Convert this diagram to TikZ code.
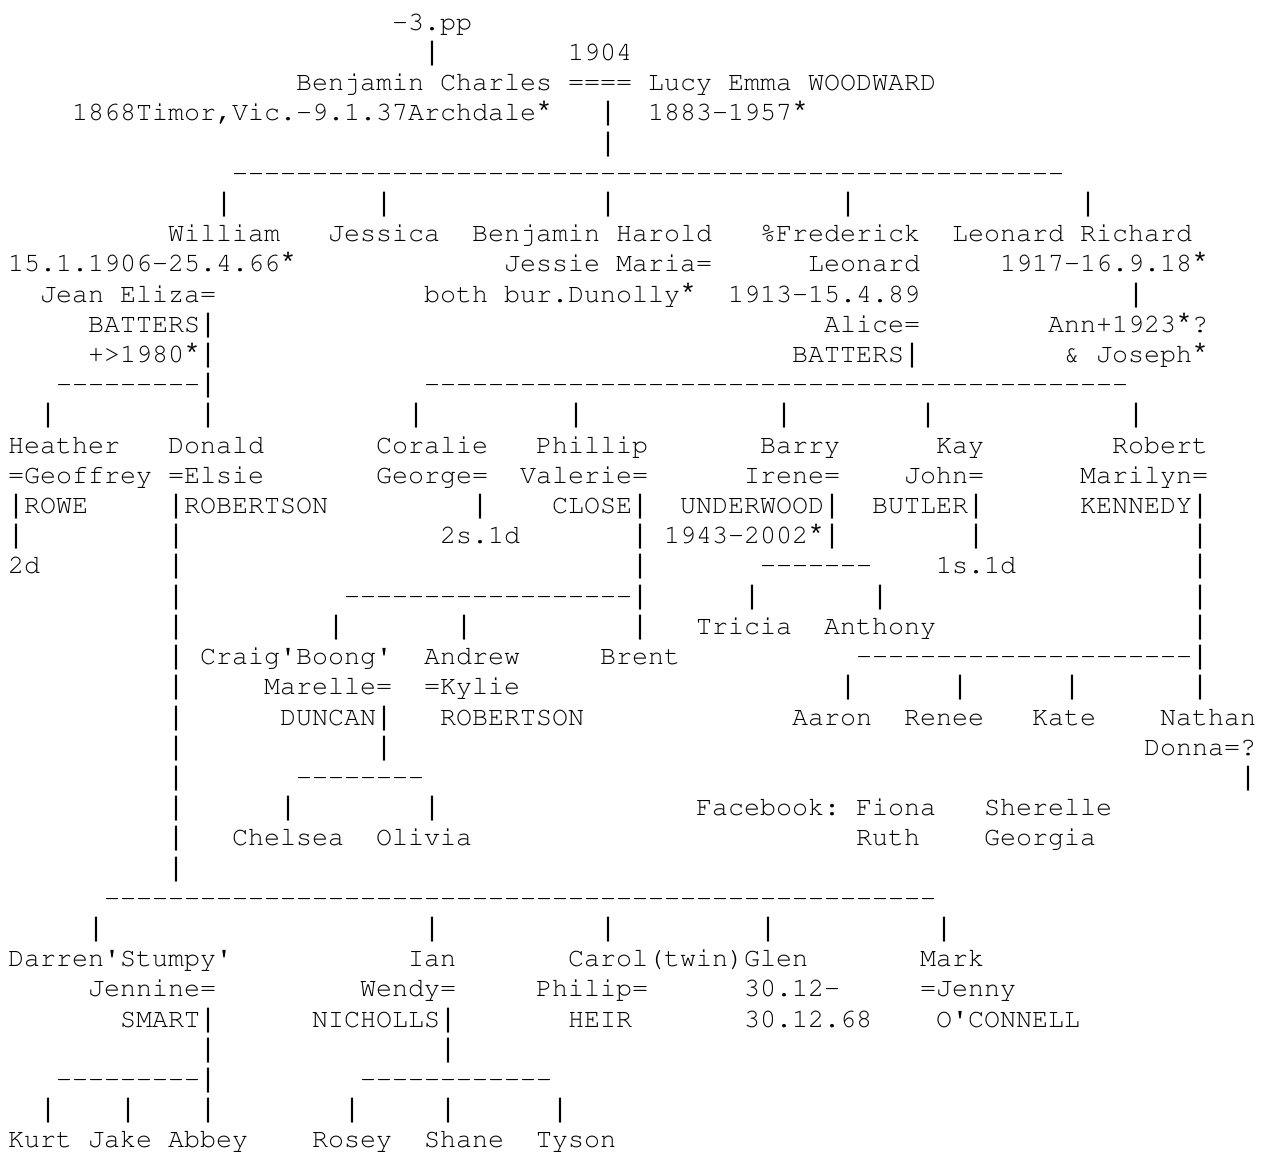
\documentclass[tikz,border=0pt]{standalone}
\usepackage[T1]{fontenc}
\usepackage{fontspec}
\newfontfamily\lmono{Liberation Mono}
\ExplSyntaxOn
\cs_new:Npn \dashrun #1 { \prg_replicate:nn {#1} {-{}} }
\ExplSyntaxOff
\newcommand\q{\textquotesingle}
\newcommand\vb{{\lmono|}}
\newcommand\astk{{\lmono*}}
\frenchspacing
\tikzset{
  tx/.style={anchor=base west, inner sep=0pt, outer sep=0pt, text=black,
    font=\fontencoding{T1}\fontfamily{pcr}\fontseries{m}\fontshape{n}\fontsize{20pt}{24pt}\selectfont}
}
\newcommand\Seg[4]{\node[tx] (#1) at ({8+16*#2},{30.2+30.21*(#3-1)}) {#4};}
\begin{document}
\begin{tikzpicture}[x=0.75pt,y=-0.75pt]
\useasboundingbox[fill=white] (0,0) rectangle (1266,1153);
% row 1-5
\Seg{pp}{24}{1}{-3.pp}
\Seg{vtwo}{26}{2}{\vb}\Seg{married}{35}{2}{1904}
\Seg{bc}{18}{3}{Benjamin Charles}\Seg{eqthree}{35}{3}{====}\Seg{lucy}{40}{3}{Lucy Emma WOODWARD}
\Seg{bcd}{4}{4}{1868Timor,Vic.-9.1.37Archdale\astk}\Seg{vfour}{37}{4}{\vb}\Seg{lucyd}{40}{4}{1883-1957\astk}
\Seg{vfive}{37}{5}{\vb}
% row 6-12
\Seg{hsix}{14}{6}{\dashrun{52}}
\Seg{vsa}{13}{7}{\vb}\Seg{vsb}{23}{7}{\vb}\Seg{vsc}{37}{7}{\vb}\Seg{vsd}{52}{7}{\vb}\Seg{vse}{67}{7}{\vb}
\Seg{william}{10}{8}{William}\Seg{jessica}{20}{8}{Jessica}\Seg{benh}{29}{8}{Benjamin Harold}\Seg{fred}{47}{8}{\%Frederick}\Seg{leon}{59}{8}{Leonard Richard}
\Seg{willd}{0}{9}{15.1.1906-25.4.66\astk}\Seg{jessie}{31}{9}{Jessie Maria=}\Seg{fredb}{50}{9}{Leonard}\Seg{leond}{62}{9}{1917-16.9.18\astk}
\Seg{jean}{2}{10}{Jean Eliza=}\Seg{bur}{26}{10}{both bur.Dunolly\astk}\Seg{fredd}{45}{10}{1913-15.4.89}\Seg{vten}{70}{10}{\vb}
\Seg{jeanb}{5}{11}{BATTERS\vb}\Seg{alice}{51}{11}{Alice=}\Seg{ann}{65}{11}{Ann+1923\astk?}
\Seg{jeand}{5}{12}{+>1980\astk\vb}\Seg{aliceb}{49}{12}{BATTERS\vb}\Seg{joseph}{66}{12}{\& Joseph\astk}
% row 13-19
\Seg{htha}{3}{13}{\dashrun{9}\vb}\Seg{hthb}{26}{13}{\dashrun{44}}
\Seg{vfa}{2}{14}{\vb}\Seg{vfb}{12}{14}{\vb}\Seg{vfc}{25}{14}{\vb}\Seg{vfd}{35}{14}{\vb}\Seg{vfe}{48}{14}{\vb}\Seg{vff}{57}{14}{\vb}\Seg{vfg}{70}{14}{\vb}
\Seg{heather}{0}{15}{Heather}\Seg{donald}{10}{15}{Donald}\Seg{coralie}{23}{15}{Coralie}\Seg{phillip}{33}{15}{Phillip}\Seg{barry}{47}{15}{Barry}\Seg{kay}{58}{15}{Kay}\Seg{robert}{69}{15}{Robert}
\Seg{geoffrey}{0}{16}{=Geoffrey}\Seg{elsie}{10}{16}{=Elsie}\Seg{george}{23}{16}{George=}\Seg{valerie}{32}{16}{Valerie=}\Seg{irene}{46}{16}{Irene=}\Seg{john}{56}{16}{John=}\Seg{marilyn}{67}{16}{Marilyn=}
\Seg{rowe}{0}{17}{\vb ROWE}\Seg{robertson}{10}{17}{\vb ROBERTSON}\Seg{vsva}{29}{17}{\vb}\Seg{close}{34}{17}{CLOSE\vb}\Seg{underwood}{42}{17}{UNDERWOOD\vb}\Seg{butler}{54}{17}{BUTLER\vb}\Seg{kennedy}{67}{17}{KENNEDY\vb}
\Seg{vega}{0}{18}{\vb}\Seg{vegb}{10}{18}{\vb}\Seg{corkids}{27}{18}{2s.1d}\Seg{vegc}{39}{18}{\vb}\Seg{ired}{41}{18}{1943-2002\astk\vb}\Seg{vegd}{60}{18}{\vb}\Seg{vege}{74}{18}{\vb}
\Seg{hkids}{0}{19}{2d}\Seg{vnia}{10}{19}{\vb}\Seg{vnib}{39}{19}{\vb}\Seg{hnine}{47}{19}{\dashrun{7}}\Seg{kaykids}{58}{19}{1s.1d}\Seg{vnic}{74}{19}{\vb}
% row 20-29
\Seg{vtwa}{10}{20}{\vb}\Seg{htw}{21}{20}{\dashrun{18}\vb}\Seg{vtwb}{46}{20}{\vb}\Seg{vtwc}{54}{20}{\vb}\Seg{vtwd}{74}{20}{\vb}
\Seg{vtoa}{10}{21}{\vb}\Seg{vtob}{20}{21}{\vb}\Seg{vtoc}{28}{21}{\vb}\Seg{vtod}{39}{21}{\vb}\Seg{tricia}{43}{21}{Tricia}\Seg{anthony}{51}{21}{Anthony}\Seg{vtoe}{74}{21}{\vb}
\Seg{vtta}{10}{22}{\vb}\Seg{craig}{12}{22}{Craig\q Boong\q}\Seg{andrew}{26}{22}{Andrew}\Seg{brent}{37}{22}{Brent}\Seg{htt}{53}{22}{\dashrun{21}\vb}
\Seg{vtha}{10}{23}{\vb}\Seg{marelle}{16}{23}{Marelle=}\Seg{kylie}{26}{23}{=Kylie}\Seg{vthb}{52}{23}{\vb}\Seg{vthc}{59}{23}{\vb}\Seg{vthd}{66}{23}{\vb}\Seg{vthe}{74}{23}{\vb}
\Seg{vfoa}{10}{24}{\vb}\Seg{duncan}{17}{24}{DUNCAN\vb}\Seg{robertsonb}{27}{24}{ROBERTSON}\Seg{aaron}{49}{24}{Aaron}\Seg{renee}{56}{24}{Renee}\Seg{kate}{64}{24}{Kate}\Seg{nathan}{72}{24}{Nathan}
\Seg{vfva}{10}{25}{\vb}\Seg{vfvb}{23}{25}{\vb}\Seg{donna}{71}{25}{Donna=?}
\Seg{vsxa}{10}{26}{\vb}\Seg{hsx}{18}{26}{\dashrun{8}}\Seg{vsxb}{77}{26}{\vb}
\Seg{vsna}{10}{27}{\vb}\Seg{vsnb}{17}{27}{\vb}\Seg{vsnc}{26}{27}{\vb}\Seg{fb}{43}{27}{Facebook: Fiona}\Seg{sherelle}{61}{27}{Sherelle}
\Seg{vega2}{10}{28}{\vb}\Seg{chelsea}{14}{28}{Chelsea}\Seg{olivia}{23}{28}{Olivia}\Seg{ruth}{53}{28}{Ruth}\Seg{georgia}{61}{28}{Georgia}
\Seg{vnn}{10}{29}{\vb}
% row 30-38
\Seg{hthirty}{6}{30}{\dashrun{52}}
\Seg{vtya}{5}{31}{\vb}\Seg{vtyb}{26}{31}{\vb}\Seg{vtyc}{37}{31}{\vb}\Seg{vtyd}{47}{31}{\vb}\Seg{vtye}{58}{31}{\vb}
\Seg{darren}{0}{32}{Darren\q Stumpy\q}\Seg{ian}{25}{32}{Ian}\Seg{carol}{35}{32}{Carol(twin)Glen}\Seg{mark}{57}{32}{Mark}
\Seg{jennine}{5}{33}{Jennine=}\Seg{wendy}{22}{33}{Wendy=}\Seg{philip}{33}{33}{Philip=}\Seg{glend}{46}{33}{30.12-}\Seg{jenny}{57}{33}{=Jenny}
\Seg{smart}{7}{34}{SMART\vb}\Seg{nicholls}{19}{34}{NICHOLLS\vb}\Seg{heir}{35}{34}{HEIR}\Seg{glendb}{46}{34}{30.12.68}\Seg{oconnell}{58}{34}{O\q CONNELL}
\Seg{vtfa}{12}{35}{\vb}\Seg{vtfb}{27}{35}{\vb}
\Seg{htxa}{3}{36}{\dashrun{9}\vb}\Seg{htxb}{22}{36}{\dashrun{12}}
\Seg{vtsa}{2}{37}{\vb}\Seg{vtsb}{7}{37}{\vb}\Seg{vtsc}{12}{37}{\vb}\Seg{vtsd}{21}{37}{\vb}\Seg{vtse}{27}{37}{\vb}\Seg{vtsf}{34}{37}{\vb}
\Seg{kurt}{0}{38}{Kurt}\Seg{jake}{5}{38}{Jake}\Seg{abbey}{10}{38}{Abbey}\Seg{rosey}{19}{38}{Rosey}\Seg{shane}{26}{38}{Shane}\Seg{tyson}{33}{38}{Tyson}
\end{tikzpicture}
\end{document}
